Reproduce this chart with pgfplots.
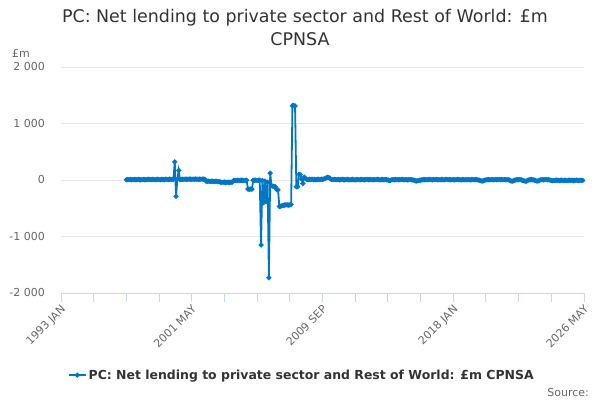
\documentclass[border=0pt]{standalone}
\usepackage{pgfplots}
\pgfplotsset{compat=1.18}
\usepackage{fontspec}
\setmainfont{DejaVu Sans}
\definecolor{seriesblue}{RGB}{0,119,198}
\definecolor{gridgray}{RGB}{230,230,230}
\definecolor{axisblue}{RGB}{204,214,235}
\definecolor{ticktext}{RGB}{102,102,102}
\definecolor{titletext}{RGB}{51,51,51}
\begin{document}
\begin{tikzpicture}[x=1bp,y=1bp]
\path[use as bounding box] (0,0) rectangle (600,400);
% title
\node[anchor=base, font=\fontsize{17.5}{21}\selectfont, text=titletext] at (305,378) {PC: Net lending to private sector and Rest of World: £m};
\node[anchor=base, font=\fontsize{17.5}{21}\selectfont, text=titletext] at (300,355) {CPNSA};
\node[anchor=base west, inner sep=0pt, font=\fontsize{11}{13}\selectfont, text=ticktext] at (12,343) {£m};
\node[anchor=base east, inner sep=0pt, font=\fontsize{11}{13}\selectfont, text=ticktext] at (589,4) {Source:};
\begin{axis}[
    at={(61bp,107bp)}, anchor=south west,
    scale only axis, width=523bp, height=226bp,
    xmin=0, xmax=400, ymin=-2000, ymax=2000,
    axis x line*=bottom, axis y line*=left,
    x axis line style={-, draw=axisblue, line width=1bp},
    y axis line style={draw=none},
    xtick={0,100,200,300,400},
    minor xtick={25,50,75,125,150,175,225,250,275,325,350,375},
    xticklabels={1993 JAN,2001 MAY,2009 SEP,2018 JAN,2026 MAY},
    xtick style={draw=axisblue, line width=1bp},
    minor x tick style={draw=axisblue, line width=1bp},
    xtick align=outside, major tick length=9bp, minor tick length=9bp,
    xticklabel style={rotate=45, anchor=north east, font=\fontsize{11}{13}\selectfont, text=ticktext, inner sep=1bp, xshift=-1bp},
    ytick={-2000,-1000,0,1000,2000},
    ytick style={draw=none},
    yticklabel style={anchor=east, font=\fontsize{11}{13}\selectfont, text=ticktext, inner sep=0pt, xshift=-16bp},
    /pgf/number format/.cd, 1000 sep={\ }, assume math mode=true, /pgfplots/.cd,
    ymajorgrids, grid style={draw=gridgray, line width=1bp},
    legend style={at={(0.007,-0.363)}, anchor=west, draw=none, fill=none,
        font=\bfseries\fontsize{12.5}{15}\selectfont, text=titletext},
    legend cell align=left,
]
\addplot[seriesblue, line width=1.8bp, mark=*, mark size=1.5bp, mark options={fill=seriesblue, draw=seriesblue}] coordinates {
(50,5) (51,8) (52,6) (53,10) (54,4) (55,7) (56,9) (57,5) (58,6) (59,11)
(60,8) (61,4) (62,7) (63,10) (64,6) (65,5) (66,9) (67,12) (68,7) (69,6)
(70,10) (71,8) (72,5) (73,9) (74,13) (75,7) (76,6) (77,11) (78,9) (79,8)
(80,12) (81,10) (82,7) (83,14) (84,9) (85,11) (86,10)
(87,320) (88,-290) (89,15) (90,170) (91,8)
(92,12) (93,14) (94,10) (95,15) (96,13) (97,11) (98,16) (99,14) (100,12) (101,15)
(102,13) (103,17) (104,14) (105,12) (106,15) (107,13) (108,16) (109,14) (110,12)
(111,-22) (112,-25) (113,-20) (114,-26) (115,-24) (116,-21) (117,-27) (118,-23) (119,-25) (120,-28) (121,-30)
(122,-38) (123,-42) (124,-40) (125,-36) (126,-44) (127,-41) (128,-39) (129,-43) (130,-40) (131,-37)
(132,-10) (133,-6) (134,-9) (135,-5) (136,-8) (137,-7) (138,-4) (139,-9) (140,-6) (141,-8) (142,-5)
(143,-160) (144,-165) (145,-158) (146,-162)
(147,-5) (148,-8) (149,-3) (150,-10) (151,-6) (152,-4)
(153,-1150) (154,-10) (155,-400) (156,-20) (157,-380) (158,-40) (159,-1730) (160,120)
(161,-100) (162,-110) (163,-115) (164,-120) (165,-170) (166,-175)
(167,-470) (168,-465) (169,-455) (170,-450) (171,-445) (172,-440) (173,-440) (174,-445) (175,-440) (176,-435)
(177,1315) (178,1320) (179,1310)
(180,-120) (181,-118) (182,100) (183,95) (184,20) (185,-60) (186,50) (187,25) (188,10) (189,5)
(190,12) (191,8) (192,15) (193,6) (194,10) (195,4) (196,9) (197,12) (198,7) (199,14)
(200,10) (201,18) (202,25) (203,40) (204,45) (205,42) (206,20) (207,10) (208,6) (209,12)
(210,8) (211,5) (212,10) (213,3) (214,7) (215,12) (216,6) (217,4) (218,9) (219,11)
(220,6) (221,3) (222,8) (223,10) (224,5) (225,2) (226,7) (227,9) (228,4) (229,6)
(230,10) (231,7) (232,3) (233,8) (234,12) (235,5) (236,6) (237,9) (238,4) (239,7)
(240,5) (241,8) (242,11) (243,6) (244,3) (245,9) (246,7) (247,4) (248,10) (249,6)
(250,2) (251,-12) (252,-8) (253,5) (254,7) (255,3) (256,9) (257,6) (258,4) (259,8)
(260,6) (261,10) (262,5) (263,3) (264,8) (265,4) (266,7) (267,9) (268,5) (269,2)
(270,-5) (271,-15) (272,-18) (273,-12) (274,-8) (275,-4) (276,3) (277,6) (278,5) (279,8)
(280,4) (281,7) (282,9) (283,5) (284,3) (285,8) (286,6) (287,10) (288,4) (289,7)
(290,5) (291,9) (292,6) (293,3) (294,8) (295,11) (296,5) (297,7) (298,4) (299,6)
(300,8) (301,3) (302,6) (303,10) (304,5) (305,7) (306,2) (307,9) (308,6) (309,4)
(310,7) (311,5) (312,8) (313,3) (314,6) (315,10) (316,4) (317,7) (318,5) (319,2)
(320,-4) (321,-10) (322,-18) (323,-14) (324,-6) (325,3) (326,5) (327,8) (328,4) (329,6)
(330,7) (331,3) (332,9) (333,5) (334,6) (335,10) (336,4) (337,8) (338,5) (339,7)
(340,6) (341,3) (342,8) (343,-4) (344,-15) (345,-20) (346,-12) (347,-5) (348,4) (349,7)
(350,5) (351,8) (352,2) (353,-6) (354,-14) (355,-22) (356,-18) (357,-8) (358,3) (359,6)
(360,8) (361,4) (362,-3) (363,-10) (364,-20) (365,-16) (366,-6) (367,5) (368,7) (369,3)
(370,6) (371,9) (372,4) (373,7) (374,-3) (375,-8) (376,-12) (377,-10) (378,-5) (379,-2)
(380,-6) (381,-10) (382,-8) (383,-4) (384,-9) (385,-7) (386,-5) (387,-11) (388,-6) (389,-4)
(390,-8) (391,-5) (392,-10) (393,-7) (394,-3) (395,-6) (396,-9) (397,-5) (398,-8) (399,-6)
};
\addlegendentry{PC: Net lending to private sector and Rest of World: £m CPNSA}
\end{axis}
\end{tikzpicture}
\end{document}
